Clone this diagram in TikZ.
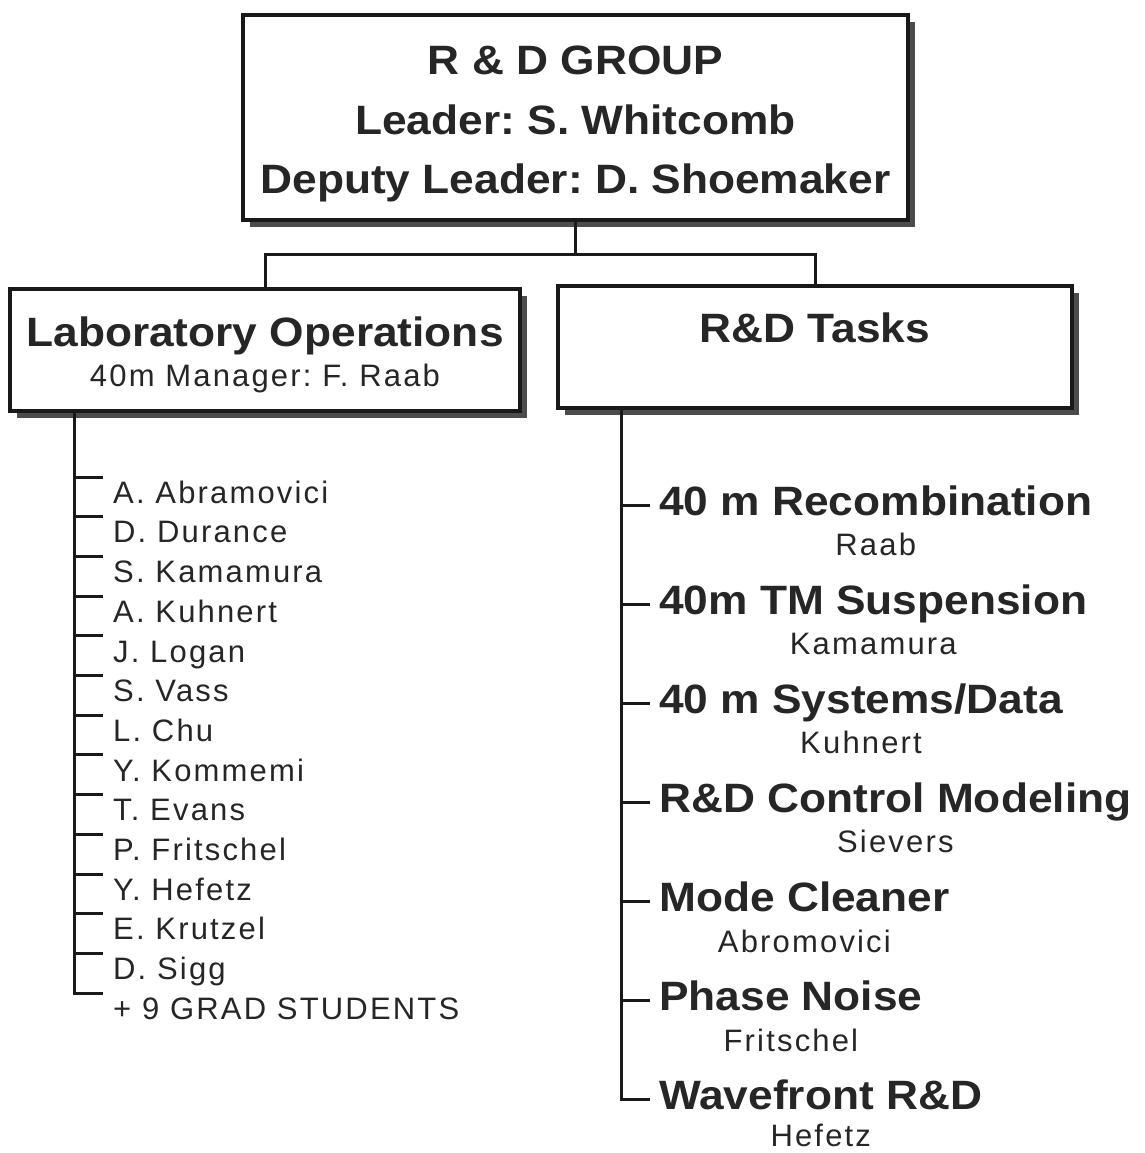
\documentclass[tikz,border=0pt]{standalone}
\usepackage{fontspec}
\setmainfont{Liberation Sans}
\newfontfamily\headfont{Liberation Sans}[FakeStretch=1.08]
\newfontfamily\namefont{Liberation Sans}[LetterSpace=7]
\frenchspacing
\usetikzlibrary{positioning}
\usetikzlibrary{shadows}

\begin{document}
\begin{tikzpicture}[x=1pt, y=-1pt, node distance=0pt,
	every node/.append style={text=black!85},
	box/.style={draw=black!90, line width=3.5pt, fill=white, inner sep=0pt, align=center,
		drop shadow={shadow xshift=7pt, shadow yshift=-7pt, fill=black!70, opacity=1}},
	wire/.style={draw=black!90, line width=3pt},
	staff/.style={font=\namefont\fontsize{31}{31}\selectfont, inner sep=0pt, text height=26pt, text depth=13.3pt, anchor=north west},
	task/.style={font=\headfont\bfseries\fontsize{41}{41}\selectfont, inner sep=0pt, text height=30pt, text depth=10pt, anchor=north west},
	lead/.style={font=\namefont\fontsize{31}{31}\selectfont, inner sep=0pt, text height=30pt, text depth=28.3pt}]
		\useasboundingbox (0,0) rectangle (1144,1153);

		\node[box, minimum width=665pt, minimum height=205pt, font=\headfont\bfseries\fontsize{41}{59.5}\selectfont] (group) at (575.5,117.5)
			{\rule{0pt}{42pt}R \& D GROUP\\ Leader: S. Whitcomb\\ Deputy Leader: D. Shoemaker};
		\node[box, minimum width=510pt, minimum height=122pt, font=\headfont\bfseries\fontsize{41}{40}\selectfont] (labops) at (265,350)
			{\rule{0pt}{40pt}Laboratory Operations\\ {\namefont\mdseries\fontsize{31}{40}\selectfont 40m Manager: F. Raab}};
		\node[box, minimum width=514pt, minimum height=122pt, text depth=38pt, font=\headfont\bfseries\fontsize{41}{41}\selectfont] (rdtasks) at (815,347) {R\&D Tasks};

		\draw[wire] (group.south) -- ++(0,33) coordinate (fork) -| (labops.north);
		\draw[wire] (fork) -| (rdtasks.north);

		\node[staff] (abramovici) at (113,477) {A. Abramovici};
		\node[staff] (durance) at (abramovici.south west) {D. Durance};
		\node[staff] (kamamura) at (durance.south west) {S. Kamamura};
		\node[staff] (kuhnert) at (kamamura.south west) {A. Kuhnert};
		\node[staff] (logan) at (kuhnert.south west) {J. Logan};
		\node[staff] (vass) at (logan.south west) {S. Vass};
		\node[staff] (chu) at (vass.south west) {L. Chu};
		\node[staff] (kommemi) at (chu.south west) {Y. Kommemi};
		\node[staff] (evans) at (kommemi.south west) {T. Evans};
		\node[staff] (fritschel) at (evans.south west) {P. Fritschel};
		\node[staff] (hefetz) at (fritschel.south west) {Y. Hefetz};
		\node[staff] (krutzel) at (hefetz.south west) {E. Krutzel};
		\node[staff] (sigg) at (krutzel.south west) {D. Sigg};
		\node[staff] (grads) at (sigg.south west) {+ 9 GRAD STUDENTS};

		\coordinate (labtrunk) at ([xshift=66.5pt]labops.south west);
		\draw[wire] (labtrunk) |- ([xshift=-10pt]grads.north west);
		\draw[wire] (labtrunk |- abramovici.north) -- ([xshift=-10pt]abramovici.north west);
		\draw[wire] (labtrunk |- durance.north) -- ([xshift=-10pt]durance.north west);
		\draw[wire] (labtrunk |- kamamura.north) -- ([xshift=-10pt]kamamura.north west);
		\draw[wire] (labtrunk |- kuhnert.north) -- ([xshift=-10pt]kuhnert.north west);
		\draw[wire] (labtrunk |- logan.north) -- ([xshift=-10pt]logan.north west);
		\draw[wire] (labtrunk |- vass.north) -- ([xshift=-10pt]vass.north west);
		\draw[wire] (labtrunk |- chu.north) -- ([xshift=-10pt]chu.north west);
		\draw[wire] (labtrunk |- kommemi.north) -- ([xshift=-10pt]kommemi.north west);
		\draw[wire] (labtrunk |- evans.north) -- ([xshift=-10pt]evans.north west);
		\draw[wire] (labtrunk |- fritschel.north) -- ([xshift=-10pt]fritschel.north west);
		\draw[wire] (labtrunk |- hefetz.north) -- ([xshift=-10pt]hefetz.north west);
		\draw[wire] (labtrunk |- krutzel.north) -- ([xshift=-10pt]krutzel.north west);
		\draw[wire] (labtrunk |- sigg.north) -- ([xshift=-10pt]sigg.north west);

		\node[task] (recomb) at (659,485) {40 m Recombination};
		\node[lead, below=of recomb] (recomblead) {Raab};
		\node[task] (suspension) at (recomb.south west |- recomblead.south) {40m TM Suspension};
		\node[lead, below=of suspension] (suspensionlead) {Kamamura};
		\node[task] (systems) at (suspension.south west |- suspensionlead.south) {40 m Systems/Data};
		\node[lead, below=of systems] (systemslead) {Kuhnert};
		\node[task] (control) at (systems.south west |- systemslead.south) {R\&D Control Modeling};
		\node[lead, below=of control] (controllead) {Sievers};
		\node[task] (cleaner) at (control.south west |- controllead.south) {Mode Cleaner};
		\node[lead, below=of cleaner] (cleanerlead) {Abromovici};
		\node[task] (phase) at (cleaner.south west |- cleanerlead.south) {Phase Noise};
		\node[lead, below=of phase] (phaselead) {Fritschel};
		\node[task] (wavefront) at (phase.south west |- phaselead.south) {Wavefront R\&D};
		\node[lead, below=of wavefront, text height=26pt, text depth=0pt] (wavefrontlead) {Hefetz};

		\coordinate (tasktrunk) at ([xshift=65.5pt]rdtasks.south west);
		\draw[wire] (tasktrunk) |- ([xshift=-9pt]wavefront.west);
		\draw[wire] (tasktrunk |- recomb.west) -- ([xshift=-9pt]recomb.west);
		\draw[wire] (tasktrunk |- suspension.west) -- ([xshift=-9pt]suspension.west);
		\draw[wire] (tasktrunk |- systems.west) -- ([xshift=-9pt]systems.west);
		\draw[wire] (tasktrunk |- control.west) -- ([xshift=-9pt]control.west);
		\draw[wire] (tasktrunk |- cleaner.west) -- ([xshift=-9pt]cleaner.west);
		\draw[wire] (tasktrunk |- phase.west) -- ([xshift=-9pt]phase.west);
\end{tikzpicture}
\end{document}
